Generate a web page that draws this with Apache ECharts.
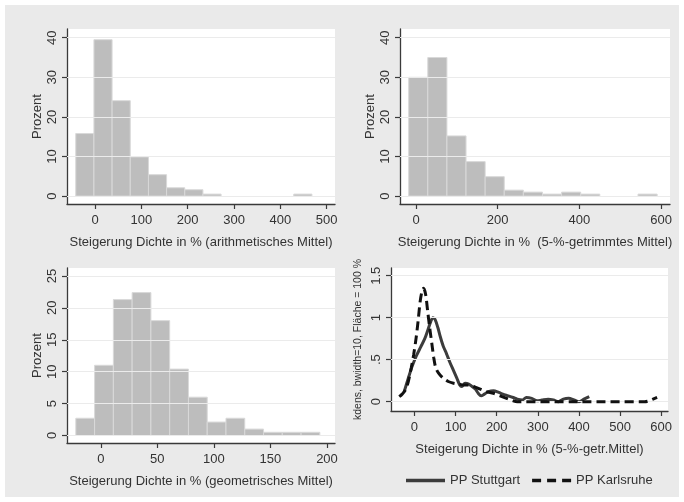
<!DOCTYPE html>
<html>
<head>
<meta charset="utf-8">
<script src="https://cdn.jsdelivr.net/npm/echarts@6/dist/echarts.min.js"></script>
<style>
html,body{margin:0;padding:0;background:#ffffff;}
#bg{position:absolute;left:5px;top:5px;width:674px;height:492px;background:#eaeaea;}
#chart{position:absolute;left:0;top:0;width:684px;height:502px;}
</style>
</head>
<body>
<div id="bg"></div>
<div id="chart"></div>
<script>
// ---------- DATA ----------
// Panel 1: Steigerung Dichte in % (arithmetisches Mittel)
const edges1 = [-41.5, -2.3, 36.9, 76.1, 115.3, 154.5, 193.7, 232.9, 272.1, 311.3, 350.5, 389.7, 428.9, 468.1];
const pct1   = [15.8, 39.5, 24.1, 9.9, 5.4, 2.1, 1.6, 0.5, 0, 0, 0, 0, 0.5];
const xTicks1 = [0, 100, 200, 300, 400, 500];
const yTicks1 = [0, 10, 20, 30, 40];

// Panel 2: Steigerung Dichte in % (5-%-getrimmtes Mittel)
const edges2 = [-17.9, 28.9, 75.7, 122.5, 169.3, 216.1, 262.9, 309.7, 356.5, 403.3, 450.1, 496.9, 543.7, 590.5];
const pct2   = [30.0, 35.0, 15.2, 8.7, 4.9, 1.5, 1.0, 0.5, 1.0, 0.5, 0, 0, 0.5];
const xTicks2 = [0, 200, 400, 600];
const yTicks2 = [0, 10, 20, 30, 40];

// Panel 3: Steigerung Dichte in % (geometrisches Mittel)
const edges3 = [-22.1, -5.5, 11.1, 27.7, 44.3, 60.9, 77.5, 94.1, 110.7, 127.3, 143.9, 160.5, 177.1, 193.7];
const pct3   = [2.7, 11.0, 21.3, 22.4, 18.0, 10.4, 6.0, 2.1, 2.7, 1.0, 0.5, 0.5, 0.5];
const xTicks3 = [0, 50, 100, 150, 200];
const yTicks3 = [0, 5, 10, 15, 20, 25];

// Panel 4: kernel densities (5-%-getr. Mittel)
const stuttgartX = [-25, -15, -5, 5, 15, 25, 33, 40, 45, 50, 57, 63, 70, 78, 86, 95, 103, 110, 115, 123, 132, 140, 148, 155, 162, 170, 180, 192, 205, 215, 228, 240, 250, 262, 272, 285, 298, 310, 325, 338, 350, 362, 375, 388, 400, 412, 425];
const stuttgartY = [0.12, 0.28, 0.43, 0.55, 0.65, 0.75, 0.86, 0.96, 1.00, 0.98, 0.88, 0.77, 0.66, 0.57, 0.47, 0.37, 0.28, 0.20, 0.18, 0.22, 0.21, 0.18, 0.15, 0.10, 0.07, 0.09, 0.12, 0.13, 0.11, 0.09, 0.07, 0.05, 0.03, 0.02, 0.05, 0.04, 0.01, 0.02, 0.03, 0.02, 0.00, 0.03, 0.04, 0.02, 0.00, 0.03, 0.06];
const karlsruheX = [-37, -30, -22, -15, -8, -2, 4, 9, 14, 19, 22, 27, 32, 37, 42, 47, 52, 60, 70, 82, 95, 107, 120, 132, 145, 160, 175, 192, 208, 224, 240, 250, 400, 560, 570, 580, 590];
const karlsruheY = [0.06, 0.09, 0.14, 0.24, 0.40, 0.56, 0.76, 0.97, 1.20, 1.33, 1.35, 1.28, 1.08, 0.88, 0.70, 0.52, 0.40, 0.33, 0.28, 0.24, 0.22, 0.21, 0.20, 0.20, 0.18, 0.15, 0.12, 0.10, 0.07, 0.04, 0.01, 0.00, 0.00, 0.00, 0.01, 0.03, 0.05];
const xTicks4 = [0, 100, 200, 300, 400, 500, 600];
const yTicks4 = [0, 0.5, 1, 1.5];
const yLabels4 = ['0', '.5', '1', '1.5'];

const seriesNames = ['PP Stuttgart', 'PP Karlsruhe'];
const xTitles = [
  'Steigerung Dichte in % (arithmetisches Mittel)',
  'Steigerung Dichte in %  (5-%-getrimmtes Mittel)',
  'Steigerung Dichte in % (geometrisches Mittel)',
  'Steigerung Dichte in % (5-%-getr.Mittel)'
];
const yTitles = ['Prozent', 'Prozent', 'Prozent', 'kdens, bwidth=10, Fläche = 100 %'];

// ---------- STYLE / LAYOUT ----------
const FONT = 'Liberation Sans, Arial, sans-serif';
const TXT = '#333333';
const AX = '#3a3a3a';
const grids = [
  {left: 67,  top: 29,  width: 268, height: 175},
  {left: 400, top: 29,  width: 270, height: 175},
  {left: 67,  top: 268, width: 268, height: 175},
  {left: 391, top: 268, width: 277, height: 143}
];
const xRanges = [[-60.4, 517.9], [-39.2, 622], [-29.9, 207.1], [-57.1, 616.5]];
const yRanges = [[-2.0, 42.2], [-2.0, 42.2], [-1.18, 26.25], [-0.111, 1.592]];
const xTickSets = [xTicks1, xTicks2, xTicks3, xTicks4];
const yTickSets = [yTicks1, yTicks2, yTicks3, yTicks4];
const SOLID_ICON = 'path://M0,0h39v3.5h-39z';
const DASH_ICON = 'path://M0,0h9v3.5h-9z M15,0h9v3.5h-9z M30,0h9v3.5h-9z';

function xAxisFor(i) {
  return {
    type: 'value', gridIndex: i, min: xRanges[i][0], max: xRanges[i][1],
    name: xTitles[i], nameLocation: 'middle', nameGap: 32,
    nameTextStyle: {fontFamily: FONT, fontSize: 13, color: TXT},
    axisLine: {show: true, onZero: false, lineStyle: {color: AX, width: 1.3}},
    axisTick: {show: true, length: 5, customValues: xTickSets[i], lineStyle: {color: AX, width: 1.2}},
    axisLabel: {show: true, customValues: xTickSets[i], margin: 10, fontFamily: FONT, fontSize: 13, color: TXT},
    splitLine: {show: false}
  };
}
function yAxisFor(i) {
  return {
    type: 'value', gridIndex: i, min: yRanges[i][0], max: yRanges[i][1],
    name: yTitles[i], nameLocation: 'middle', nameRotate: 90, nameGap: i === 3 ? 27 : 23,
    nameTextStyle: {fontFamily: FONT, fontSize: i === 3 ? 10.5 : 13, color: TXT},
    axisLine: {show: true, onZero: false, lineStyle: {color: AX, width: 1.3}},
    axisTick: {show: true, length: 5, customValues: yTickSets[i], lineStyle: {color: AX, width: 1.2}},
    axisLabel: {
      show: true, customValues: yTickSets[i], rotate: 90, margin: 8,
      fontFamily: FONT, fontSize: 13, color: TXT,
      formatter: i === 3 ? (v) => yLabels4[yTicks4.indexOf(v)] : (v) => String(v)
    },
    splitLine: {show: false}
  };
}

function histData(edges, pct) {
  const out = [];
  for (let k = 0; k < pct.length; k++) {
    if (pct[k] > 0) out.push([edges[k], edges[k + 1], pct[k]]);
  }
  return out;
}
function barSeries(i, edges, pct) {
  return {
    type: 'custom', xAxisIndex: i, yAxisIndex: i, z: 3, silent: true,
    data: histData(edges, pct),
    renderItem: function (params, api) {
      const p0 = api.coord([api.value(0), api.value(2)]);
      const p1 = api.coord([api.value(1), 0]);
      return {
        type: 'rect',
        shape: {x: p0[0], y: p0[1], width: p1[0] - p0[0], height: p1[1] - p0[1]},
        style: {fill: '#bdbdbd', stroke: '#d9d9d9', lineWidth: 1}
      };
    }
  };
}
function gridLineSeries(i) {
  return {
    type: 'line', xAxisIndex: i, yAxisIndex: i, z: 1, silent: true, data: [],
    markLine: {
      silent: true, symbol: 'none', animation: false,
      label: {show: false},
      lineStyle: {color: '#ebebeb', type: 'solid', width: 1},
      data: yTickSets[i].map(v => ({yAxis: v}))
    }
  };
}

const option = {
  animation: false,
  backgroundColor: 'transparent',
  textStyle: {fontFamily: FONT},
  grid: grids.map(g => Object.assign({show: true, backgroundColor: '#ffffff', borderWidth: 0, containLabel: false}, g)),
  xAxis: [0, 1, 2, 3].map(xAxisFor),
  yAxis: [0, 1, 2, 3].map(yAxisFor),
  legend: {
    show: true, orient: 'horizontal',
    left: 401, top: 469, itemWidth: 39, itemHeight: 3.5, itemGap: 12,
    textStyle: {fontFamily: FONT, fontSize: 13, color: TXT},
    data: [
      {name: seriesNames[0], icon: SOLID_ICON, itemStyle: {color: '#3c3c3c'}},
      {name: seriesNames[1], icon: DASH_ICON, itemStyle: {color: '#111111'}}
    ]
  },
  series: [
    gridLineSeries(0), gridLineSeries(1), gridLineSeries(2), gridLineSeries(3),
    barSeries(0, edges1, pct1),
    barSeries(1, edges2, pct2),
    barSeries(2, edges3, pct3),
    {
      name: seriesNames[0], type: 'line', xAxisIndex: 3, yAxisIndex: 3, z: 4,
      showSymbol: false, symbol: 'none', smooth: 0.3,
      data: stuttgartX.map((x, k) => [x, stuttgartY[k]]),
      lineStyle: {color: '#3c3c3c', width: 3},
      itemStyle: {color: '#3c3c3c'}
    },
    {
      name: seriesNames[1], type: 'line', xAxisIndex: 3, yAxisIndex: 3, z: 5,
      showSymbol: false, symbol: 'none', smooth: 0.3,
      data: karlsruheX.map((x, k) => [x, karlsruheY[k]]),
      lineStyle: {color: '#111111', width: 3, type: [9, 5]},
      itemStyle: {color: '#111111'}
    }
  ]
};

const chart = echarts.init(document.getElementById('chart'), null, {renderer: 'canvas'});
chart.setOption(option);
</script>
</body>
</html>
